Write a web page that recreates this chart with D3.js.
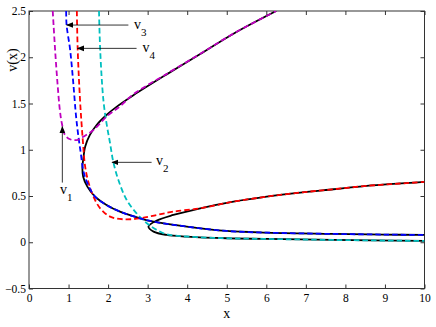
<!DOCTYPE html>
<html>
<head>
<meta charset="utf-8">
<script src="https://cdn.jsdelivr.net/npm/d3@7"></script>
<style>
  body { margin: 0; background: #fff; }
  svg { display: block; font-family: "Liberation Serif", "Times New Roman", serif; }
</style>
</head>
<body>
<svg id="chart" width="436" height="327"></svg>
<script>
// ticks
const xTicks = [0, 1, 2, 3, 4, 5, 6, 7, 8, 9, 10];
const yTicks = [-0.5, 0, 0.5, 1, 1.5, 2, 2.5];

// black solid curves [x, v]
const blackA = [[6.25, 2.5], [5.17, 2.255], [4.33, 2.035], [3.48, 1.815], [2.64, 1.59], [2.22, 1.466],
  [1.96, 1.376], [1.71, 1.268], [1.54, 1.16], [1.42, 1.033], [1.37, 0.89], [1.35, 0.817],
  [1.37, 0.709], [1.475, 0.601], [1.67, 0.493], [1.96, 0.403], [2.30, 0.331], [2.81, 0.259],
  [3.15, 0.223], [3.99, 0.169], [5.0, 0.122], [6.01, 0.104], [7.70, 0.09], [9.0, 0.083], [10, 0.079]];
const blackB = [[10, 0.652], [8.54, 0.609], [7.70, 0.573], [6.86, 0.537], [6.01, 0.493], [5.17, 0.439],
  [4.33, 0.367], [3.65, 0.295], [3.23, 0.234], [3.02, 0.169], [3.15, 0.115], [3.48, 0.079],
  [3.99, 0.061], [5.0, 0.043], [6.01, 0.036], [7.70, 0.025], [10, 0.014]];

// dashed approximations
const v1 = [[0.60, 2.5], [0.66, 2.08], [0.72, 1.72], [0.78, 1.43], [0.83, 1.286], [0.91, 1.16],
  [1.04, 1.113], [1.21, 1.105], [1.37, 1.14], [1.63, 1.214], [1.96, 1.358], [2.30, 1.47],
  [2.64, 1.60], [3.48, 1.82], [4.33, 2.037], [5.17, 2.256], [6.25, 2.5]];
const v2 = [[1.77, 2.5], [1.80, 2.08], [1.88, 1.54], [1.96, 1.286], [2.05, 1.07], [2.13, 0.871],
  [2.26, 0.673], [2.47, 0.457], [2.72, 0.313], [2.98, 0.205], [3.23, 0.133], [3.48, 0.086],
  [3.99, 0.062], [5.0, 0.043], [6.01, 0.036], [7.70, 0.025], [10, 0.014]];
const v3 = [[0.94, 2.5], [0.95, 2.35], [1.04, 2.08], [1.12, 1.72], [1.19, 1.36], [1.25, 1.14],
  [1.31, 0.96], [1.37, 0.78], [1.46, 0.655], [1.67, 0.493], [1.96, 0.403], [2.30, 0.331],
  [2.81, 0.259], [3.15, 0.223], [3.99, 0.169], [5.0, 0.122], [6.01, 0.104], [7.70, 0.09],
  [9.0, 0.083], [10, 0.079]];
const v4 = [[1.21, 2.5], [1.23, 2.10], [1.29, 1.54], [1.36, 1.105], [1.42, 0.817], [1.50, 0.655],
  [1.63, 0.493], [1.80, 0.367], [2.05, 0.277], [2.39, 0.248], [2.81, 0.259], [3.23, 0.295],
  [3.65, 0.331], [4.33, 0.367], [5.17, 0.439], [6.01, 0.493], [6.86, 0.537], [7.70, 0.573],
  [8.54, 0.609], [10, 0.652]];

// annotations: subscript, arrow tail, arrow tip, label position
const annNames = ["1", "2", "3", "4"];
const annTail = [[0.843, 0.645], [3.10, 0.864], [2.513, 2.348], [2.72, 2.096]];
const annTip = [[0.843, 1.25], [2.10, 0.864], [0.953, 2.348], [1.231, 2.096]];
const annLabel = [[0.784, 0.519], [3.21, 0.835], [2.656, 2.31], [2.867, 2.06]];

const svg = d3.select("#chart");
const W = 436, H = 327;
const m = { left: 29, right: 11.5, top: 11, bottom: 38.5 };

const x = d3.scaleLinear().domain([0, 10]).range([m.left, W - m.right]);
const y = d3.scaleLinear().domain([-0.5, 2.5]).range([H - m.bottom, m.top]);

svg.append("defs").append("clipPath").attr("id", "clip")
  .append("rect")
  .attr("x", m.left).attr("y", m.top)
  .attr("width", W - m.left - m.right).attr("height", H - m.top - m.bottom);

const fmt = d3.format("~g");
const axisColor = "#333";

// axes
const gx = svg.append("g").attr("transform", `translate(0,${H - m.bottom})`)
  .call(d3.axisBottom(x).tickValues(xTicks).tickFormat(fmt).tickSizeInner(-4).tickSizeOuter(0).tickPadding(5));
const gxt = svg.append("g").attr("transform", `translate(0,${m.top})`)
  .call(d3.axisTop(x).tickValues(xTicks).tickFormat("").tickSizeInner(-4).tickSizeOuter(0));
const gy = svg.append("g").attr("transform", `translate(${m.left},0)`)
  .call(d3.axisLeft(y).tickValues(yTicks).tickFormat(fmt).tickSizeInner(-4).tickSizeOuter(0).tickPadding(3));
const gyr = svg.append("g").attr("transform", `translate(${W - m.right},0)`)
  .call(d3.axisRight(y).tickValues(yTicks).tickFormat("").tickSizeInner(-4).tickSizeOuter(0));

[gx, gxt, gy, gyr].forEach(g => {
  g.attr("font-family", "Liberation Serif, Times New Roman, serif");
  g.select(".domain").remove();
  g.selectAll(".tick line").attr("stroke", axisColor);
  g.selectAll(".tick text").attr("fill", "#000").attr("font-size", 11.5);
});

svg.append("rect")
  .attr("x", m.left).attr("y", m.top)
  .attr("width", W - m.left - m.right).attr("height", H - m.top - m.bottom)
  .attr("fill", "none").attr("stroke", axisColor).attr("stroke-width", 1);

// axis labels
svg.append("text")
  .attr("x", (x(0) + x(10)) / 2).attr("y", 318)
  .attr("text-anchor", "middle").attr("font-size", 14)
  .text("x");
svg.append("text")
  .attr("transform", `translate(17,${y(1.97)}) rotate(-90)`)
  .attr("text-anchor", "middle").attr("font-size", 14)
  .text("v(x)");

// curves
const line = d3.line()
  .x(d => x(d[0]))
  .y(d => y(d[1]))
  .curve(d3.curveCatmullRom.alpha(0.5));

const plot = svg.append("g").attr("clip-path", "url(#clip)");

[blackA, blackB].forEach(c => {
  plot.append("path")
    .attr("d", line(c))
    .attr("fill", "none")
    .attr("stroke", "#000")
    .attr("stroke-width", 1.8);
});

const dashed = [
  { data: v2, color: "#00bfbf" },
  { data: v4, color: "#ff0000" },
  { data: v3, color: "#0000ff" },
  { data: v1, color: "#bf00bf" }
];

dashed.forEach(s => {
  plot.append("path")
    .attr("d", line(s.data))
    .attr("fill", "none")
    .attr("stroke", s.color)
    .attr("stroke-width", 1.8)
    .attr("stroke-dasharray", "5.5,3");
});

// arrows
svg.select("defs").append("marker")
  .attr("id", "arrow")
  .attr("viewBox", "0 0 10 10")
  .attr("refX", 9).attr("refY", 5)
  .attr("markerWidth", 7).attr("markerHeight", 7)
  .attr("markerUnits", "userSpaceOnUse")
  .attr("orient", "auto")
  .append("path")
  .attr("d", "M0,1 L10,5 L0,9 Z")
  .attr("fill", "#000");

annNames.forEach((n, i) => {
  svg.append("line")
    .attr("x1", x(annTail[i][0])).attr("y1", y(annTail[i][1]))
    .attr("x2", x(annTip[i][0])).attr("y2", y(annTip[i][1]))
    .attr("stroke", "#000").attr("stroke-width", 0.8)
    .attr("marker-end", "url(#arrow)");

  const t = svg.append("text")
    .attr("x", x(annLabel[i][0])).attr("y", y(annLabel[i][1]))
    .attr("font-size", 14);
  t.append("tspan").text("v");
  t.append("tspan").attr("dy", 7).attr("font-size", 11).text(n);
});
</script>
</body>
</html>
